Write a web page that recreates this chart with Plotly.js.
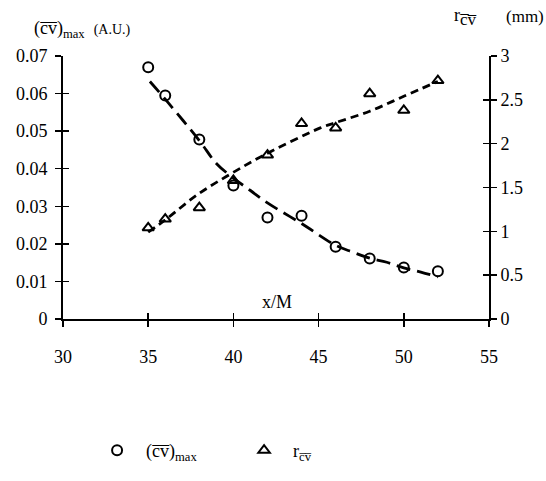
<!DOCTYPE html>
<html>
<head>
<meta charset="utf-8">
<script src="https://cdn.plot.ly/plotly-3.0.1.min.js"></script>
<style>html,body{margin:0;padding:0;background:#fff;}#chart{width:546px;height:481px;}</style>
</head>
<body>
<div id="chart"></div>
<script>
// measured data points
const cvX = [35, 36, 38, 40, 42, 44, 46, 48, 50, 52];
const cvY = [0.0670, 0.0595, 0.0478, 0.0355, 0.0270, 0.0275, 0.0192, 0.0161, 0.0137, 0.0127];
const rX = [35, 36, 38, 40, 42, 44, 46, 48, 50, 52];
const rY = [1.04, 1.14, 1.27, 1.58, 1.87, 2.23, 2.18, 2.57, 2.38, 2.72];
// fitted curves
const cvFitX = [35.1, 36, 38, 39, 40, 41, 42, 44, 46, 47, 48, 49, 50, 51, 52];
const cvFitY = [0.0632, 0.0585, 0.0475, 0.0414, 0.0375, 0.0342, 0.0309, 0.0254, 0.0196, 0.0178, 0.0162, 0.0151, 0.0136, 0.0125, 0.0112];
const rFitX = [35, 36, 37.9, 39.8, 41.7, 45.1, 46, 48, 50, 52];
const rFitY = [0.99, 1.13, 1.42, 1.65, 1.86, 2.18, 2.24, 2.37, 2.54, 2.71];
const xTicks = [30, 35, 40, 45, 50, 55];
const yTicks = [0, 0.01, 0.02, 0.03, 0.04, 0.05, 0.06, 0.07];
const y2Ticks = [0, 0.5, 1, 1.5, 2, 2.5, 3];

const OL = '\u0305';
const cvName = '(c' + OL + 'v' + OL + ')<sub>max</sub>';
const rName = 'r<sub>c' + OL + 'v' + OL + '</sub>';
const FONT = 'Liberation Serif, Times New Roman, serif';

const traces = [
  {x: cvFitX, y: cvFitY, mode: 'lines', line: {color: '#000', width: 2.8, dash: '14px,7px', shape: 'spline'}, showlegend: false, hoverinfo: 'skip'},
  {x: rFitX, y: rFitY, yaxis: 'y2', mode: 'lines', line: {color: '#000', width: 2.8, dash: '8px,5px', shape: 'spline'}, showlegend: false, hoverinfo: 'skip'},
  {x: cvX, y: cvY, mode: 'markers', name: '\u00A0\u00A0' + cvName, marker: {symbol: 'circle-open', size: 10, color: '#000', line: {width: 2, color: '#000'}}},
  {x: rX, y: rY, yaxis: 'y2', mode: 'markers', name: '\u00A0\u00A0' + rName, marker: {symbol: 'triangle-up-open', size: 10, color: '#000', line: {width: 2, color: '#000'}}},
  {x: [null], y: [null], xaxis: 'x2', yaxis: 'y3', showlegend: false, hoverinfo: 'skip'},
  {x: [null], y: [null], xaxis: 'x2', yaxis: 'y4', showlegend: false, hoverinfo: 'skip'}
];

const axBase = {showgrid: false, zeroline: false, showline: true, linecolor: '#000', linewidth: 2,
  ticks: 'outside', ticklen: 6, tickwidth: 1.5, tickcolor: '#000', tickfont: {family: FONT, size: 18, color: '#000'}};
const inBase = {showgrid: false, zeroline: false, showline: false, ticks: 'inside', ticklen: 6, tickwidth: 1.5, tickcolor: '#000', showticklabels: false};

const layout = {
  width: 546, height: 481,
  margin: {l: 63, r: 57, t: 56, b: 158},
  paper_bgcolor: '#fff', plot_bgcolor: '#fff',
  font: {family: FONT, size: 18, color: '#000'},
  xaxis: Object.assign({}, axBase, {range: [30, 55], tickvals: xTicks, ticklabelstandoff: 14}),
  yaxis: Object.assign({}, axBase, {range: [0, 0.07], tickvals: yTicks, ticktext: yTicks.map(v => v === 0 ? '0' : v.toFixed(2)), ticklabelstandoff: 4}),
  yaxis2: Object.assign({}, axBase, {range: [0, 3], tickvals: y2Ticks, ticktext: y2Ticks.map(String), overlaying: 'y', side: 'right', anchor: 'x', ticklabelstandoff: 0}),
  xaxis2: Object.assign({}, inBase, {range: [30, 55], tickvals: xTicks, overlaying: 'x', anchor: 'y'}),
  yaxis3: Object.assign({}, inBase, {range: [0, 0.07], tickvals: yTicks, overlaying: 'y', anchor: 'x', side: 'left'}),
  yaxis4: Object.assign({}, inBase, {range: [0, 3], tickvals: y2Ticks, overlaying: 'y', anchor: 'x', side: 'right'}),
  showlegend: true,
  legend: {orientation: 'h', x: 0.08, y: -0.5, xanchor: 'left', yanchor: 'middle',
    entrywidth: 102, entrywidthmode: 'pixels', font: {family: FONT, size: 18, color: '#000'}, bgcolor: 'rgba(0,0,0,0)'},
  annotations: [
    {xref: 'paper', yref: 'paper', x: -0.072, y: 1.10, xanchor: 'left', yanchor: 'middle', showarrow: false,
      text: cvName + '\u00A0\u00A0<span style="font-size:14px">(A.U.)</span>', font: {family: FONT, size: 18, color: '#000'}},
    {xref: 'paper', yref: 'paper', x: 0.913, y: 1.15, xanchor: 'left', yanchor: 'middle', showarrow: false,
      text: 'r<sub><span style="font-size:17px">c' + OL + 'v' + OL + '</span></sub>', font: {family: FONT, size: 18, color: '#000'}},
    {xref: 'paper', yref: 'paper', x: 1.0, y: 1.15, xanchor: 'right', yanchor: 'middle', showarrow: false, xshift: 57,
      text: '(mm)', font: {family: FONT, size: 17, color: '#000'}},
    {xref: 'paper', yref: 'paper', x: 0.502, y: 0.065, xanchor: 'center', yanchor: 'middle', showarrow: false,
      text: 'x/M', font: {family: FONT, size: 18, color: '#000'}}
  ]
};

Plotly.newPlot('chart', traces, layout, {displayModeBar: false, staticPlot: true});
</script>
</body>
</html>
